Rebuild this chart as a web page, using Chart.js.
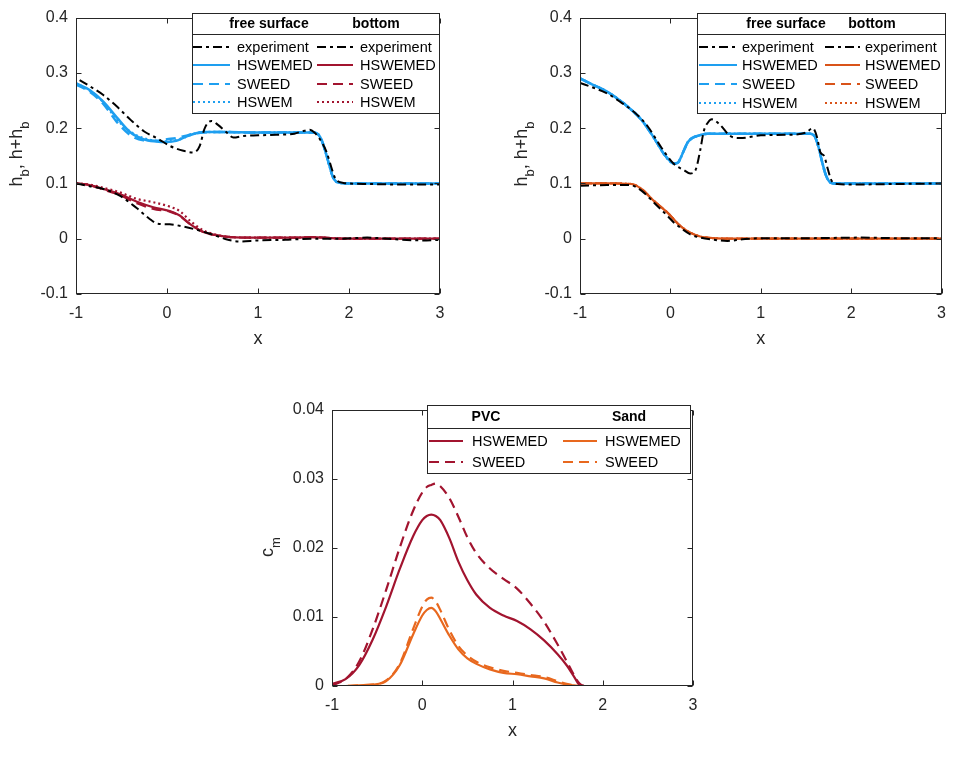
<!DOCTYPE html>
<html><head><meta charset="utf-8">
<script src="https://cdn.jsdelivr.net/npm/chart.js@4.4.1/dist/chart.umd.min.js"></script>
<style>
body{margin:0;background:#fff;width:956px;height:780px;position:relative;overflow:hidden;font-family:"Liberation Sans",Arial,sans-serif}
.c{position:absolute}
</style>
</head><body>
<canvas class="c" id="c1" width="478" height="352" style="left:0;top:0"></canvas>
<canvas class="c" id="c2" width="478" height="352" style="left:478px;top:0"></canvas>
<canvas class="c" id="c3" width="478" height="352" style="left:256px;top:392px"></canvas>
<script>
// ---------- DATA ----------
const xTickVals = [-1, 0, 1, 2, 3];
const hTickVals = [-0.1, 0, 0.1, 0.2, 0.3, 0.4];
const cTickVals = [0, 0.01, 0.02, 0.03, 0.04];

// Plot A (PVC) free surface
const aFsExpX = [-0.96,-0.85,-0.7,-0.55,-0.4,-0.25,-0.1,0.03,0.18,0.29,0.36,0.41,0.45,0.49,0.56,0.65,0.73,0.84,1.0,1.2,1.4,1.5,1.57,1.62,1.68,1.755,1.81,1.85,1.94,2.2,2.6,3.0];
const aFsExpY = [0.287,0.276,0.260,0.239,0.215,0.194,0.181,0.168,0.159,0.156,0.168,0.198,0.210,0.213,0.206,0.193,0.183,0.186,0.187,0.188,0.190,0.195,0.197,0.192,0.180,0.156,0.127,0.109,0.101,0.099,0.098,0.098];
const aFsModelX = [-1,-0.85,-0.7,-0.55,-0.4,-0.26,-0.12,0,0.1,0.2,0.3,0.4,0.6,1.0,1.4,1.6,1.66,1.7,1.74,1.78,1.82,1.86,1.9,2.0,2.5,3.0];
const aFsHswemedY = [0.281,0.269,0.248,0.219,0.192,0.180,0.176,0.175,0.177,0.184,0.190,0.193,0.193,0.192,0.192,0.192,0.189,0.178,0.158,0.135,0.113,0.103,0.101,0.100,0.100,0.100];
const aFsSweedY   = [0.279,0.266,0.244,0.211,0.187,0.178,0.177,0.180,0.182,0.186,0.190,0.192,0.193,0.192,0.192,0.192,0.189,0.178,0.158,0.135,0.113,0.103,0.101,0.100,0.100,0.100];
const aFsHswemY   = [0.281,0.268,0.247,0.216,0.193,0.182,0.177,0.176,0.178,0.184,0.190,0.193,0.193,0.192,0.192,0.192,0.189,0.178,0.158,0.135,0.113,0.103,0.101,0.100,0.100,0.100];

// Plot A bottom
const aBtExpX = [-1,-0.85,-0.7,-0.52,-0.33,-0.2,-0.1,0.03,0.18,0.33,0.47,0.58,0.65,0.8,1.0,1.3,1.6,1.9,2.2,2.5,2.8,3.0];
const aBtExpY = [0.100,0.095,0.090,0.078,0.055,0.037,0.027,0.026,0.022,0.016,0.009,0.003,-0.001,-0.005,-0.003,-0.002,0.000,0.000,0.002,-0.001,-0.003,-0.002];
const aBtModelX = [-1,-0.85,-0.7,-0.52,-0.33,-0.15,0.03,0.14,0.25,0.4,0.55,0.7,1.0,1.4,1.6,1.8,2.0,3.0];
const aBtHswemedY = [0.100,0.097,0.090,0.081,0.067,0.057,0.050,0.042,0.027,0.012,0.006,0.003,0.002,0.002,0.003,0.001,0.000,0.000];
const aBtSweedY   = [0.100,0.097,0.089,0.079,0.064,0.054,0.049,0.041,0.027,0.012,0.006,0.003,0.002,0.002,0.003,0.001,0.000,0.000];
const aBtHswemY   = [0.100,0.098,0.092,0.084,0.072,0.066,0.058,0.050,0.033,0.015,0.007,0.003,0.002,0.002,0.003,0.001,0.000,0.000];

// Plot B (sand) free surface
const bFsExpX = [-1,-0.85,-0.69,-0.55,-0.4,-0.25,-0.1,0.04,0.15,0.22,0.28,0.33,0.37,0.41,0.46,0.55,0.66,0.77,1.0,1.3,1.5,1.575,1.62,1.66,1.70,1.74,1.78,1.85,2.0,2.5,3.0];
const bFsExpY = [0.282,0.273,0.262,0.247,0.229,0.203,0.165,0.135,0.124,0.118,0.125,0.160,0.195,0.209,0.216,0.206,0.186,0.182,0.187,0.188,0.192,0.200,0.185,0.156,0.150,0.127,0.106,0.099,0.098,0.099,0.100];
const bFsModelX = [-1,-0.85,-0.69,-0.51,-0.32,-0.18,-0.07,0.04,0.08,0.11,0.15,0.19,0.24,0.3,0.41,0.6,1.0,1.4,1.55,1.6,1.64,1.68,1.72,1.76,1.8,2.0,3.0];
const bFsHswemedY = [0.290,0.278,0.265,0.244,0.215,0.182,0.153,0.136,0.137,0.145,0.160,0.174,0.182,0.186,0.190,0.190,0.190,0.190,0.190,0.184,0.165,0.138,0.115,0.103,0.100,0.100,0.100];
const bFsSweedY   = bFsHswemedY;
const bFsHswemY   = bFsHswemedY;

// Plot B bottom
const bBtExpX = [-1,-0.7,-0.45,-0.32,-0.18,-0.03,0.04,0.11,0.22,0.33,0.48,0.63,0.8,1.0,1.5,2.1,2.5,3.0];
const bBtExpY = [0.096,0.097,0.097,0.087,0.065,0.041,0.029,0.020,0.008,0.002,-0.002,-0.004,-0.001,0.001,0.001,0.002,0.001,0.001];
const bBtModelX = [-1,-0.7,-0.43,-0.32,-0.18,-0.03,0.11,0.22,0.33,0.48,0.7,1.0,2.0,3.0];
const bBtHswemedY = [0.100,0.100,0.099,0.090,0.068,0.047,0.023,0.011,0.004,0.001,0.000,0.000,0.000,0.000];
const bBtSweedY   = bBtHswemedY;
const bBtHswemY   = bBtHswemedY;

// Plot C concentration
const cX = [-1,-0.85,-0.7,-0.55,-0.4,-0.25,-0.1,0,0.05,0.1,0.15,0.2,0.3,0.4,0.5,0.6,0.75,0.9,1.05,1.2,1.35,1.5,1.6,1.68,1.74,1.8,2.0,2.5,3.0];
const cPvcHswemedY = [0.0003,0.0010,0.0030,0.0067,0.0115,0.0169,0.0217,0.0240,0.0246,0.0248,0.0246,0.0240,0.0214,0.0180,0.0153,0.0132,0.0113,0.0102,0.0094,0.0082,0.0066,0.0046,0.0030,0.0014,0.0002,0,0,0,0];
const cPvcSweedY   = [0.0001,0.0010,0.0035,0.0082,0.0139,0.0200,0.0254,0.0280,0.0288,0.0291,0.0293,0.0289,0.0272,0.0245,0.0215,0.0192,0.0170,0.0155,0.0141,0.0119,0.0093,0.0060,0.0036,0.0016,0.0004,0,0,0,0];
const cSandHswemedY= [0,0,0.0001,0.0002,0.0007,0.0030,0.0075,0.0102,0.0110,0.0113,0.0108,0.0097,0.0073,0.0053,0.0040,0.0032,0.0024,0.0019,0.0017,0.0014,0.0011,0.0005,0.0002,0.0001,0,0,0,0,0];
const cSandSweedY  = [0,0,0.0001,0.0002,0.0008,0.0032,0.0083,0.0115,0.0125,0.0128,0.0122,0.0110,0.0081,0.0058,0.0044,0.0035,0.0027,0.0022,0.0019,0.0016,0.0013,0.0007,0.0003,0.0001,0,0,0,0,0];

// ---------- STYLE ----------
const BLUE = '#1E9FF0', DRED = '#A2142F', ORNG = '#D95319', SAND = '#E8681E', BLK = '#000000';
const DASH = {solid: [], dashed: [10, 6], dotted: [2, 3], dashdot: [9, 4, 3, 4]};
const AX = '#262626';
const FONT = '"Liberation Sans", Arial, sans-serif';

function pts(xs, ys) { return xs.map((x, i) => ({x: x, y: ys[i]})); }
function ds(label, xs, ys, color, dash, w) {
  return {label, data: pts(xs, ys), borderColor: color, backgroundColor: color,
    borderDash: DASH[dash], borderWidth: w || 2, pointRadius: 0, fill: false,
    cubicInterpolationMode: 'monotone', spanGaps: true};
}

// frame + inward ticks
const framePlugin = {
  id: 'frame',
  afterDatasetsDraw(chart) {
    const {ctx, chartArea: a, scales} = chart;
    ctx.save();
    ctx.strokeStyle = AX; ctx.lineWidth = 1; ctx.setLineDash([]);
    const L = Math.round(a.left) + 0.5, R = Math.round(a.right) - 0.5, T = Math.round(a.top) + 0.5, B = Math.round(a.bottom) - 0.5;
    ctx.strokeRect(L, T, R - L, B - T);
    const tl = 5;
    ctx.beginPath();
    scales.x.ticks.forEach(t => {
      const px = Math.round(scales.x.getPixelForValue(t.value)) + 0.5;
      ctx.moveTo(px, B); ctx.lineTo(px, B - tl);
      ctx.moveTo(px, T); ctx.lineTo(px, T + tl);
    });
    scales.y.ticks.forEach(t => {
      const py = Math.round(scales.y.getPixelForValue(t.value)) + 0.5;
      ctx.moveTo(L, py); ctx.lineTo(L + tl, py);
      ctx.moveTo(R, py); ctx.lineTo(R - tl, py);
    });
    ctx.stroke();
    ctx.restore();
  }
};

// table legend
const tableLegend = {
  id: 'tableLegend',
  afterDatasetsDraw(chart, args, o) {
    if (!o || !o.box) return;
    const ctx = chart.ctx;
    ctx.save();
    const [x0, y0, x1, y1] = o.box;
    ctx.fillStyle = '#fff';
    ctx.fillRect(x0, y0, x1 - x0, y1 - y0);
    ctx.strokeStyle = AX; ctx.lineWidth = 1; ctx.setLineDash([]);
    ctx.strokeRect(x0 + 0.5, y0 + 0.5, x1 - x0, y1 - y0);
    ctx.beginPath(); ctx.moveTo(x0, o.sepY + 0.5); ctx.lineTo(x1, o.sepY + 0.5); ctx.stroke();
    ctx.fillStyle = '#000';
    ctx.textBaseline = 'middle';
    ctx.font = 'bold 14px ' + FONT;
    ctx.textAlign = 'center';
    o.headers.forEach(h => ctx.fillText(h.text, h.x, h.y));
    ctx.textAlign = 'left';
    ctx.font = '14.5px ' + FONT;
    o.items.forEach(it => {
      const d = chart.data.datasets[it.ds];
      ctx.strokeStyle = d.borderColor; ctx.lineWidth = Math.min(d.borderWidth, 2.2);
      ctx.setLineDash(d.borderDash || []);
      ctx.beginPath(); ctx.moveTo(it.x0, it.y); ctx.lineTo(it.x1, it.y); ctx.stroke();
      ctx.fillStyle = '#000';
      ctx.fillText(d.label, it.tx, it.y + 0.5);
    });
    ctx.restore();
  }
};

// rotated y label with subscripts
const yLabel = {
  id: 'yLabel',
  afterDraw(chart, args, o) {
    if (!o || !o.parts) return;
    const ctx = chart.ctx;
    const size = 18, sub = 13, shift = 7;
    ctx.save();
    ctx.fillStyle = AX;
    ctx.textBaseline = 'alphabetic';
    ctx.textAlign = 'left';
    let total = 0;
    o.parts.forEach(p => { ctx.font = (p.sub ? sub : size) + 'px ' + FONT; total += ctx.measureText(p.t).width; });
    ctx.translate(o.x, o.y);
    ctx.rotate(-Math.PI / 2);
    let cx = -total / 2;
    o.parts.forEach(p => {
      ctx.font = (p.sub ? sub : size) + 'px ' + FONT;
      ctx.fillText(p.t, cx, p.sub ? shift : 0);
      cx += ctx.measureText(p.t).width;
    });
    ctx.restore();
  }
};

function fmt(v) { return String(parseFloat(Number(v).toFixed(3))); }

function makeChart(id, datasets, yMin, yMax, yStep, pad, legend, ylab) {
  return new Chart(document.getElementById(id), {
    type: 'line',
    data: {datasets},
    options: {
      responsive: false, animation: false, devicePixelRatio: 1,
      layout: {padding: pad},
      plugins: {legend: {display: false}, tooltip: {enabled: false}, tableLegend: legend, yLabel: ylab},
      scales: {
        x: {type: 'linear', min: -1, max: 3,
          afterBuildTicks: s => { s.ticks = xTickVals.map(v => ({value: v})); },
          afterFit: s => { s.height = 58; },
          grid: {display: false, drawTicks: false}, border: {display: false},
          ticks: {color: AX, font: {family: FONT, size: 16}, padding: 10, maxRotation: 0, callback: fmt},
          title: {display: true, text: 'x', color: AX, font: {family: FONT, size: 18}, padding: {top: 0, bottom: 2}}
        },
        y: {type: 'linear', min: yMin, max: yMax,
          afterBuildTicks: s => { s.ticks = (yMax > 0.1 ? hTickVals : cTickVals).map(v => ({value: v})); },
          afterFit: s => { s.width = 76; },
          grid: {display: false, drawTicks: false}, border: {display: false},
          ticks: {color: AX, font: {family: FONT, size: 16}, padding: 8, callback: fmt}
        }
      }
    },
    plugins: [framePlugin, tableLegend, yLabel]
  });
}

// ---------- CHART A ----------
makeChart('c1', [
  ds('experiment', aFsExpX, aFsExpY, BLK, 'dashdot', 2),
  ds('HSWEMED', aFsModelX, aFsHswemedY, BLUE, 'solid', 2.5),
  ds('SWEED', aFsModelX, aFsSweedY, BLUE, 'dashed', 2.5),
  ds('HSWEM', aFsModelX, aFsHswemY, BLUE, 'dotted', 2.5),
  ds('experiment', aBtExpX, aBtExpY, BLK, 'dashdot', 2),
  ds('HSWEMED', aBtModelX, aBtHswemedY, DRED, 'solid', 2.2),
  ds('SWEED', aBtModelX, aBtSweedY, DRED, 'dashed', 2.2),
  ds('HSWEM', aBtModelX, aBtHswemY, DRED, 'dotted', 2.2)
], -0.1, 0.4, 0.1, {left: 0, top: 13, right: 38, bottom: 0}, {
  box: [192, 13, 439, 113], sepY: 34,
  headers: [{text: 'free surface', x: 269, y: 24}, {text: 'bottom', x: 376, y: 24}],
  items: [
    {ds: 0, x0: 193, x1: 230, tx: 237, y: 47}, {ds: 1, x0: 193, x1: 230, tx: 237, y: 65},
    {ds: 2, x0: 193, x1: 230, tx: 237, y: 84}, {ds: 3, x0: 193, x1: 230, tx: 237, y: 102},
    {ds: 4, x0: 317, x1: 353, tx: 360, y: 47}, {ds: 5, x0: 317, x1: 353, tx: 360, y: 65},
    {ds: 6, x0: 317, x1: 353, tx: 360, y: 84}, {ds: 7, x0: 317, x1: 353, tx: 360, y: 102}
  ]
}, {x: 22, y: 154, parts: [{t: 'h'}, {t: 'b', sub: true}, {t: ', h+h'}, {t: 'b', sub: true}]});

// ---------- CHART B ----------
makeChart('c2', [
  ds('experiment', bFsExpX, bFsExpY, BLK, 'dashdot', 2),
  ds('HSWEMED', bFsModelX, bFsHswemedY, BLUE, 'solid', 2.5),
  ds('SWEED', bFsModelX, bFsSweedY, BLUE, 'dashed', 2.5),
  ds('HSWEM', bFsModelX, bFsHswemY, BLUE, 'dotted', 2.5),
  ds('experiment', bBtExpX, bBtExpY, BLK, 'dashdot', 2),
  ds('HSWEMED', bBtModelX, bBtHswemedY, ORNG, 'solid', 2.2),
  ds('SWEED', bBtModelX, bBtSweedY, ORNG, 'dashed', 2.2),
  ds('HSWEM', bBtModelX, bBtHswemY, ORNG, 'dotted', 2.2)
], -0.1, 0.4, 0.1, {left: 26, top: 13, right: 11, bottom: 0}, {
  box: [219, 13, 467, 113], sepY: 34,
  headers: [{text: 'free surface', x: 308, y: 24}, {text: 'bottom', x: 394, y: 24}],
  items: [
    {ds: 0, x0: 221, x1: 259, tx: 264, y: 47}, {ds: 1, x0: 221, x1: 259, tx: 264, y: 65},
    {ds: 2, x0: 221, x1: 259, tx: 264, y: 84}, {ds: 3, x0: 221, x1: 259, tx: 264, y: 103},
    {ds: 4, x0: 347, x1: 382, tx: 387, y: 47}, {ds: 5, x0: 347, x1: 382, tx: 387, y: 65},
    {ds: 6, x0: 347, x1: 382, tx: 387, y: 84}, {ds: 7, x0: 347, x1: 382, tx: 387, y: 103}
  ]
}, {x: 49, y: 154, parts: [{t: 'h'}, {t: 'b', sub: true}, {t: ', h+h'}, {t: 'b', sub: true}]});

// ---------- CHART C ----------
makeChart('c3', [
  ds('HSWEMED', cX, cPvcHswemedY, DRED, 'solid', 2.2),
  ds('SWEED', cX, cPvcSweedY, DRED, 'dashed', 2.2),
  ds('HSWEMED', cX, cSandHswemedY, SAND, 'solid', 2.2),
  ds('SWEED', cX, cSandSweedY, SAND, 'dashed', 2.2)
], 0, 0.04, 0.01, {left: 0, top: 13, right: 41, bottom: 0}, {
  box: [171, 13, 434, 81], sepY: 36,
  headers: [{text: 'PVC', x: 230, y: 25}, {text: 'Sand', x: 373, y: 25}],
  items: [
    {ds: 0, x0: 173, x1: 207, tx: 216, y: 49}, {ds: 1, x0: 173, x1: 207, tx: 216, y: 70},
    {ds: 2, x0: 307, x1: 341, tx: 349, y: 49}, {ds: 3, x0: 307, x1: 341, tx: 349, y: 70}
  ]
}, {x: 17, y: 155, parts: [{t: 'c'}, {t: 'm', sub: true}]});
</script>
</body></html>
